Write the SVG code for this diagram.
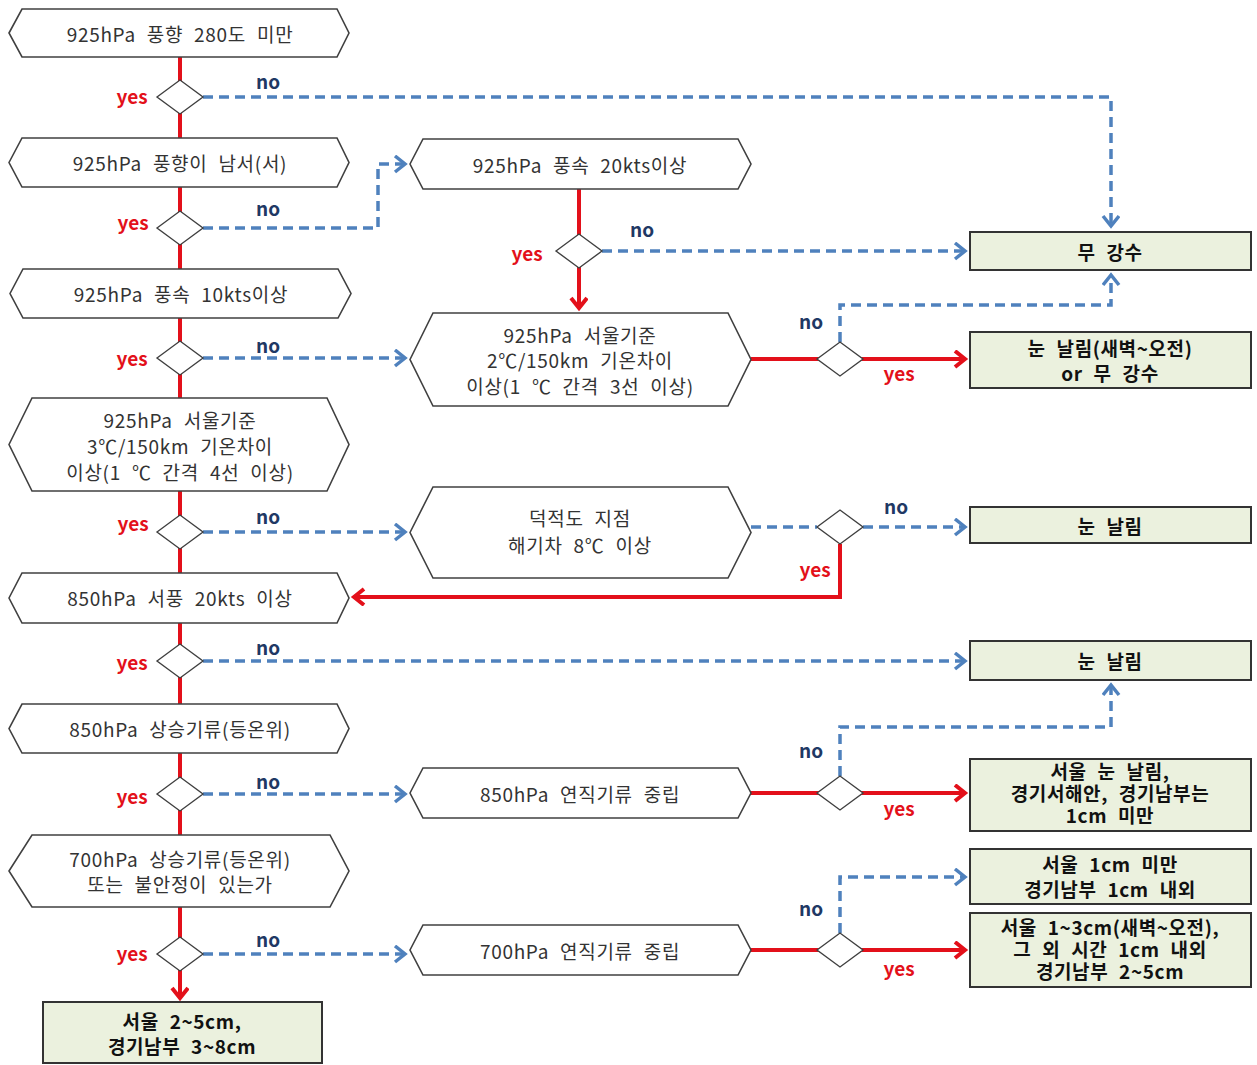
<svg xmlns="http://www.w3.org/2000/svg" width="1257" height="1065" viewBox="0 0 1257 1065">
<style>
.hex{fill:#fff;stroke:#404040;stroke-width:1.6}
.dia{fill:#fff;stroke:#404040;stroke-width:1.4}
.box{fill:#EBF1DE;stroke:#333;stroke-width:2}
.red{fill:none;stroke:#E3101A;stroke-width:4}
.blue{fill:none;stroke:#4F81BD;stroke-width:3.5;stroke-dasharray:10 6}
.t{font-family:"Noto Sans CJK KR","Noto Sans",sans-serif;font-size:19px;letter-spacing:0.7px;word-spacing:6px;fill:#333;text-anchor:middle;dominant-baseline:central}
.b{font-family:"Noto Sans CJK KR","Noto Sans",sans-serif;font-size:19px;letter-spacing:0.6px;word-spacing:6px;font-weight:bold;fill:#111;text-anchor:middle;dominant-baseline:central}
.yes{font-family:"Noto Sans CJK KR","Noto Sans",sans-serif;font-size:19px;font-weight:bold;fill:#E3101A;text-anchor:middle;dominant-baseline:central}
.no{font-family:"Noto Sans CJK KR","Noto Sans",sans-serif;font-size:19px;font-weight:bold;fill:#1F3864;text-anchor:middle;dominant-baseline:central}
</style>
<defs>
<marker id="ar" markerUnits="userSpaceOnUse" markerWidth="20" markerHeight="22" refX="12" refY="9" orient="auto" viewBox="0 0 20 22">
<path d="M2,1 L12,9 L2,17" fill="none" stroke="#E3101A" stroke-width="4"/>
</marker>
<marker id="ab" markerUnits="userSpaceOnUse" markerWidth="20" markerHeight="22" refX="12" refY="9" orient="auto" viewBox="0 0 20 22">
<path d="M2,1 L12,9 L2,17" fill="none" stroke="#4F81BD" stroke-width="3.5"/>
</marker>
</defs>
<rect width="1257" height="1065" fill="#fff"/>
<g id="connectors">
<path class="red" d="M180,57 V998" marker-end="url(#ar)"/>
<path class="red" d="M579,189 V308" marker-end="url(#ar)"/>
<path class="red" d="M751,359 H965" marker-end="url(#ar)"/>
<path class="red" d="M840,544 V597 H354" marker-end="url(#ar)"/>
<path class="red" d="M751,793 H965" marker-end="url(#ar)"/>
<path class="red" d="M751,950 H965" marker-end="url(#ar)"/>
<path class="blue" d="M203,97 H1111 V226" marker-end="url(#ab)"/>
<path class="blue" d="M203,228 H378 V164 H405" marker-end="url(#ab)"/>
<path class="blue" d="M203,358 H405" marker-end="url(#ab)"/>
<path class="blue" d="M203,532 H405" marker-end="url(#ab)"/>
<path class="blue" d="M203,661 H965" marker-end="url(#ab)"/>
<path class="blue" d="M203,794 H405" marker-end="url(#ab)"/>
<path class="blue" d="M203,954 H405" marker-end="url(#ab)"/>
<path class="blue" d="M602,251 H965" marker-end="url(#ab)"/>
<path class="blue" d="M840,342 V305 H1111 V275" marker-end="url(#ab)"/>
<path class="blue" d="M751,527 H817"/>
<path class="blue" d="M863,527 H965" marker-end="url(#ab)"/>
<path class="blue" d="M840,776 V727 H1111 V685" marker-end="url(#ab)"/>
<path class="blue" d="M840,933 V877 H965" marker-end="url(#ab)"/>
<text class="yes" x="132" y="95">yes</text><text class="no" x="268" y="80">no</text>
<text class="yes" x="133" y="221">yes</text><text class="no" x="268" y="207">no</text>
<text class="yes" x="132" y="357">yes</text><text class="no" x="268" y="344">no</text>
<text class="yes" x="133" y="522">yes</text><text class="no" x="268" y="515">no</text>
<text class="yes" x="132" y="661">yes</text><text class="no" x="268" y="646">no</text>
<text class="yes" x="132" y="795">yes</text><text class="no" x="268" y="780">no</text>
<text class="yes" x="132" y="952">yes</text><text class="no" x="268" y="938">no</text>
<text class="yes" x="527" y="252">yes</text><text class="no" x="642" y="228">no</text>
<text class="no" x="811" y="320">no</text><text class="yes" x="899" y="372">yes</text>
<text class="no" x="896" y="505">no</text><text class="yes" x="815" y="568">yes</text>
<text class="no" x="811" y="749">no</text><text class="yes" x="899" y="807">yes</text>
<text class="no" x="811" y="907">no</text><text class="yes" x="899" y="967">yes</text>
</g>
<g id="n1"><polygon class="hex" points="9,33 22,9 337,9 349,33 337,57 22,57"/><text class="t" x="180" y="33">925hPa 풍향 280도 미만</text></g>
<g id="d1"><polygon class="dia" points="157,97 180,80 203,97 180,114"/></g>
<g id="n2"><polygon class="hex" points="9,162.5 22,138 337,138 349,162.5 337,187 22,187"/><text class="t" x="180" y="162">925hPa 풍향이 남서(서)</text></g>
<g id="d2"><polygon class="dia" points="157,228 180,211 203,228 180,245"/></g>
<g id="n3"><polygon class="hex" points="10,293.5 23,269 338,269 351,293.5 338,318 23,318"/><text class="t" x="181" y="293">925hPa 풍속 10kts이상</text></g>
<g id="d3"><polygon class="dia" points="157,358 180,341 203,358 180,375"/></g>
<g id="n4"><polygon class="hex" points="9,444.5 32,398 327,398 349,444.5 327,491 32,491"/><text class="t" x="180" y="419">925hPa 서울기준</text><text class="t" x="180" y="445">3℃/150km 기온차이</text><text class="t" x="180" y="471">이상(1 ℃ 간격 4선 이상)</text></g>
<g id="d4"><polygon class="dia" points="157,532 180,515 203,532 180,549"/></g>
<g id="n5"><polygon class="hex" points="9,598 22,573 337,573 349,598 337,623 22,623"/><text class="t" x="180" y="597">850hPa 서풍 20kts 이상</text></g>
<g id="d5"><polygon class="dia" points="157,661 180,644 203,661 180,678"/></g>
<g id="n6"><polygon class="hex" points="9,728.5 22,704 337,704 349,728.5 337,753 22,753"/><text class="t" x="180" y="728">850hPa 상승기류(등온위)</text></g>
<g id="d6"><polygon class="dia" points="157,794 180,777 203,794 180,811"/></g>
<g id="n7"><polygon class="hex" points="9,871 32,835 330,835 349,871 330,907 32,907"/><text class="t" x="180" y="858">700hPa 상승기류(등온위)</text><text class="t" x="180" y="883">또는 불안정이 있는가</text></g>
<g id="d7"><polygon class="dia" points="157,954 180,937 203,954 180,971"/></g>
<g id="r_final"><rect class="box" x="43" y="1002" width="279" height="61"/><text class="b" x="182" y="1020">서울 2~5cm,</text><text class="b" x="182" y="1045">경기남부 3~8cm</text></g>
<g id="m1"><polygon class="hex" points="410,164 423,139 738,139 751,164 738,189 423,189"/><text class="t" x="580" y="164">925hPa 풍속 20kts이상</text></g>
<g id="rd1"><polygon class="dia" points="556,251 579,234 602,251 579,268"/></g>
<g id="m2"><polygon class="hex" points="410,359.5 433,313 728,313 751,359.5 728,406 433,406"/><text class="t" x="580" y="334">925hPa 서울기준</text><text class="t" x="580" y="359">2℃/150km 기온차이</text><text class="t" x="580" y="385">이상(1 ℃ 간격 3선 이상)</text></g>
<g id="rd2"><polygon class="dia" points="817,359 840,342 863,359 840,376"/></g>
<g id="m3"><polygon class="hex" points="410,532.5 433,487 728,487 751,532.5 728,578 433,578"/><text class="t" x="580" y="517">덕적도 지점</text><text class="t" x="580" y="544">해기차 8℃ 이상</text></g>
<g id="rd3"><polygon class="dia" points="817,527 840,510 863,527 840,544"/></g>
<g id="m4"><polygon class="hex" points="410,793 423,768 738,768 751,793 738,818 423,818"/><text class="t" x="580" y="793">850hPa 연직기류 중립</text></g>
<g id="rd4"><polygon class="dia" points="817,793 840,776 863,793 840,810"/></g>
<g id="m5"><polygon class="hex" points="410,950 423,925 738,925 751,950 738,975 423,975"/><text class="t" x="580" y="950">700hPa 연직기류 중립</text></g>
<g id="rd5"><polygon class="dia" points="817,950 840,933 863,950 840,967"/></g>
<g id="b1"><rect class="box" x="970" y="232" width="281" height="38"/><text class="b" x="1110" y="251">무 강수</text></g>
<g id="b2"><rect class="box" x="970" y="332" width="281" height="56"/><text class="b" x="1110" y="347">눈 날림(새벽~오전)</text><text class="b" x="1110" y="372">or 무 강수</text></g>
<g id="b3"><rect class="box" x="970" y="507" width="281" height="36"/><text class="b" x="1110" y="525">눈 날림</text></g>
<g id="b4"><rect class="box" x="970" y="641" width="281" height="39"/><text class="b" x="1110" y="660">눈 날림</text></g>
<g id="b5"><rect class="box" x="970" y="759" width="281" height="72"/><text class="b" x="1110" y="770">서울 눈 날림,</text><text class="b" x="1110" y="792">경기서해안, 경기남부는</text><text class="b" x="1110" y="814">1cm 미만</text></g>
<g id="b6"><rect class="box" x="970" y="849" width="281" height="55"/><text class="b" x="1110" y="863">서울 1cm 미만</text><text class="b" x="1110" y="888">경기남부 1cm 내외</text></g>
<g id="b7"><rect class="box" x="970" y="913" width="281" height="74"/><text class="b" x="1110" y="926">서울 1~3cm(새벽~오전),</text><text class="b" x="1110" y="948">그 외 시간 1cm 내외</text><text class="b" x="1110" y="970">경기남부 2~5cm</text></g>
</svg>
